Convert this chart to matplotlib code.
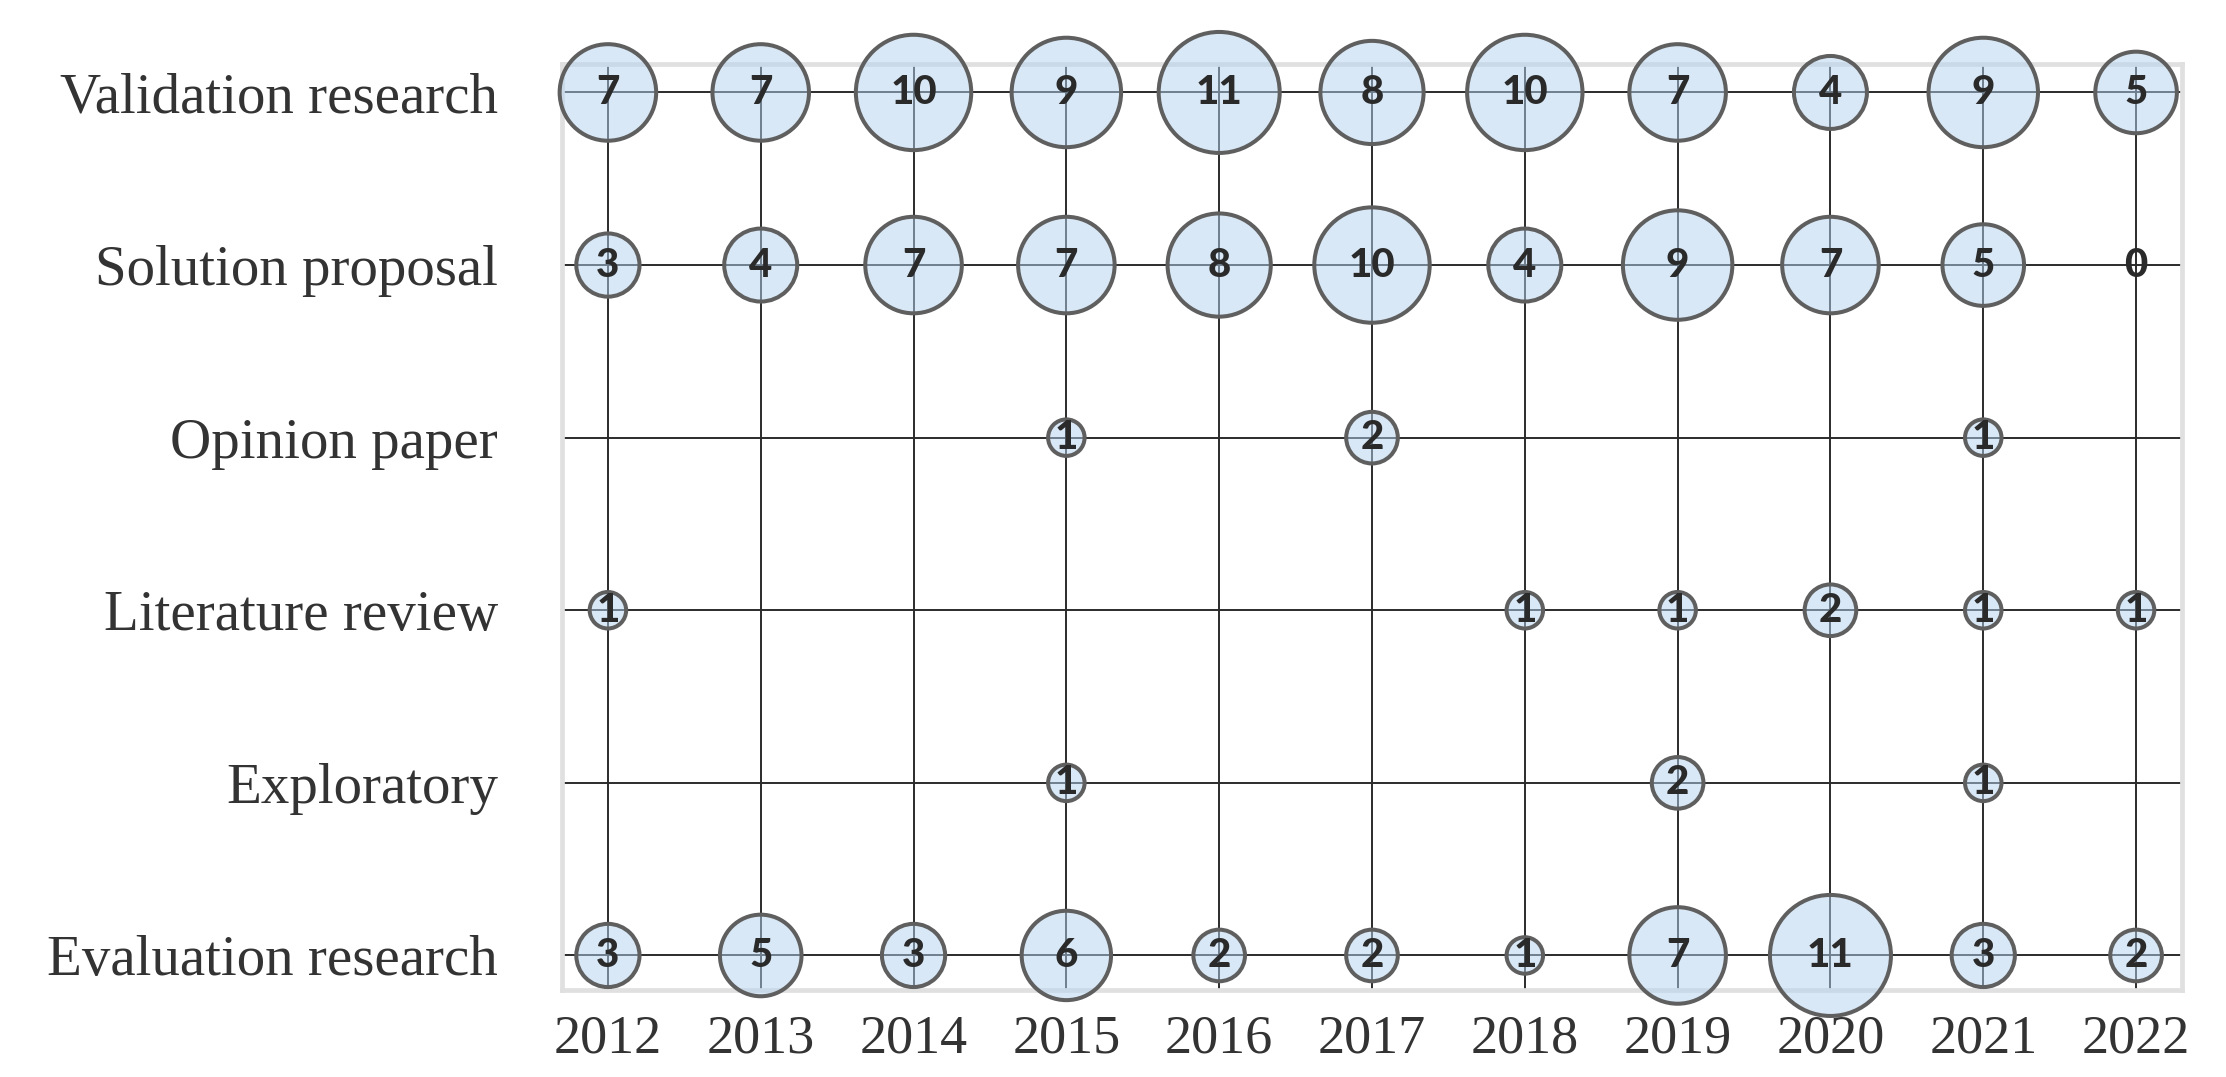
import numpy as np
import matplotlib
matplotlib.use("Agg")
import matplotlib.pyplot as plt

years = ["2012", "2013", "2014", "2015", "2016", "2017", "2018", "2019", "2020", "2021", "2022"]
categories = ["Evaluation research", "Exploratory", "Literature review",
              "Opinion paper", "Solution proposal", "Validation research"]

# papers per research type and year (None = no entry)
evaluation = [3, 5, 3, 6, 2, 2, 1, 7, 11, 3, 2]
exploratory = [None, None, None, 1, None, None, None, 2, None, 1, None]
literature = [1, None, None, None, None, None, 1, 1, 2, 1, 1]
opinion = [None, None, None, 1, None, 2, None, None, None, 1, None]
solution = [3, 4, 7, 7, 8, 10, 4, 9, 7, 5, 0]
validation = [7, 7, 10, 9, 11, 8, 10, 7, 4, 9, 5]

rows = [evaluation, exploratory, literature, opinion, solution, validation]

text_color = "#333333"
fill = (181 / 255, 211 / 255, 239 / 255, 0.5)
edge = "#5f5f5f"

fig = plt.figure(figsize=(22.26, 10.77), dpi=100)
ax = fig.add_axes([0.2525, 0.0808, 0.7277, 0.8598])

# grid lines at every year / category
for i in range(len(years)):
    ax.axvline(i, color="#2b2b2b", lw=1.4, zorder=1)
for j in range(len(categories)):
    ax.axhline(j, color="#2b2b2b", lw=1.4, zorder=1)

xs, ys, vs = [], [], []
for j, row in enumerate(rows):
    for i, v in enumerate(row):
        if v is None:
            continue
        xs.append(i)
        ys.append(j)
        vs.append(v)
xs, ys, vs = np.array(xs), np.array(ys), np.array(vs)

# bubble area proportional to count
sizes = 690 * vs
lws = np.where(vs > 0, 2.9, 0)
ax.scatter(xs, ys, s=sizes, facecolors=[fill], edgecolors=edge,
           linewidths=lws, zorder=3, clip_on=False)

for x, y, v in zip(xs, ys, vs):
    ax.text(x, y, str(v), ha="center", va="center", fontsize=29,
            fontweight="black", color="#2a2a2a", zorder=4,
            family=["Lato", "DejaVu Sans"])

ax.set_xlim(-0.3, len(years) - 1 + 0.3)
ax.set_ylim(-0.2, len(categories) - 1 + 0.165)
ax.set_xticks(range(len(years)))
ax.set_xticklabels(years, family="Liberation Serif", fontsize=39, color=text_color)
ax.set_yticks(range(len(categories)))
ax.set_yticklabels(categories, family="Liberation Serif", fontsize=41, color=text_color)
ax.tick_params(axis="both", length=0)
ax.tick_params(axis="x", pad=17)
ax.tick_params(axis="y", pad=46)

for sp in ax.spines.values():
    sp.set_color("#e0e0e0")
    sp.set_linewidth(3.4)

fig.savefig("out.png", dpi=100, facecolor="white")
